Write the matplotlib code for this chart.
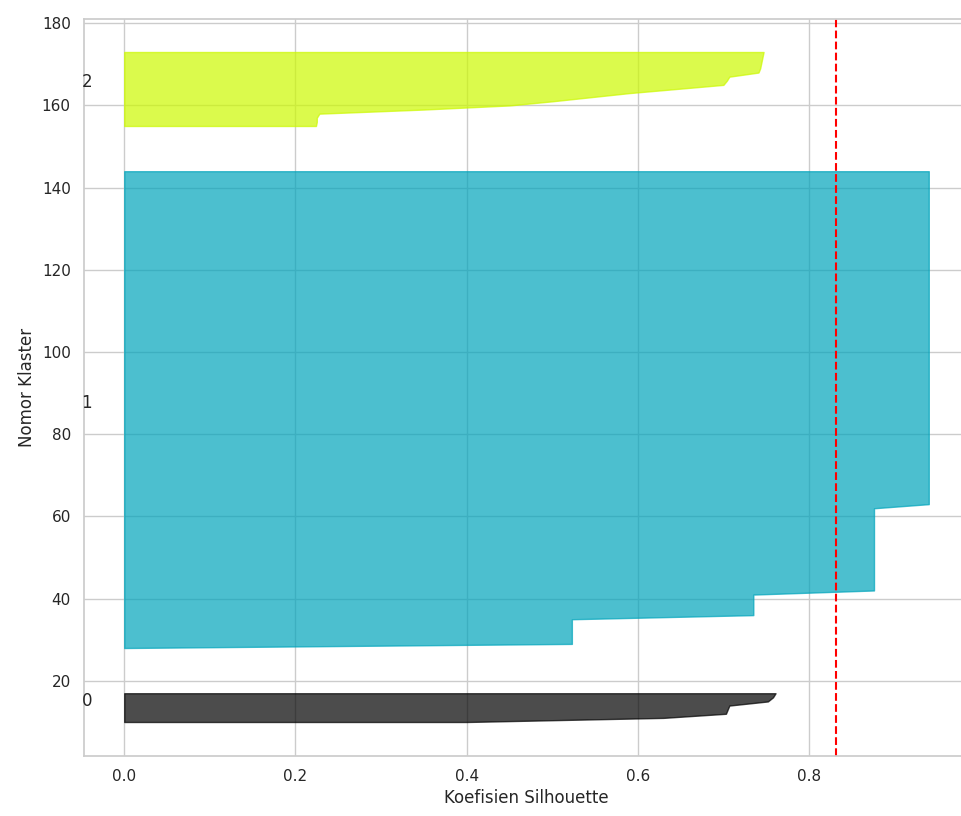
import numpy as np
import matplotlib
matplotlib.use("Agg")
import matplotlib.pyplot as plt
import matplotlib.cm as cm
import seaborn as sns

sns.set_theme(style="whitegrid")

# Silhouette values per cluster (sorted ascending)
cluster0_values = [0.40, 0.63, 0.703, 0.705, 0.707, 0.752, 0.758, 0.761]

# cluster 1 is made of flat runs: level and number of samples in each run
cluster1_levels = [0.0, 0.523, 0.735, 0.876, 0.940]
cluster1_counts = [1, 7, 6, 21, 82]

cluster2_values = [0.224, 0.225, 0.225, 0.228, 0.35, 0.45, 0.50, 0.545,
                   0.59, 0.645, 0.700, 0.704, 0.707, 0.741, 0.743, 0.744,
                   0.745, 0.746, 0.747]

silhouette_avg = 0.832
n_clusters = 3

clusters = [
    np.array(cluster0_values),
    np.repeat(cluster1_levels, cluster1_counts),
    np.array(cluster2_values),
]

fig = plt.figure(figsize=(9.61, 8.16), dpi=100)
ax = fig.add_axes([84 / 961, 1 - 755.5 / 816, 885 / 961, 737 / 816])

y_lower = 10
for i, vals in enumerate(clusters):
    size = vals.shape[0]
    y_upper = y_lower + size
    color = cm.nipy_spectral(float(i) / n_clusters)
    ax.fill_betweenx(np.arange(y_lower, y_upper), 0, vals,
                     facecolor=color, edgecolor=color, alpha=0.7)
    ax.text(-0.05, y_lower + 0.5 * size, str(i))
    y_lower = y_upper + 10

ax.axvline(x=silhouette_avg, color="red", linestyle="--")

ax.set_xlabel("Koefisien Silhouette")
ax.set_ylabel("Nomor Klaster")

fig.savefig("out.png", dpi=100)
